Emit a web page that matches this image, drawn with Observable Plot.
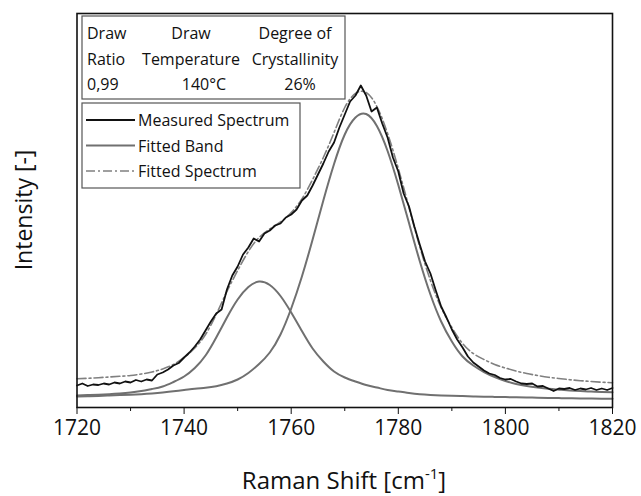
<!DOCTYPE html>
<html>
<head>
<meta charset="utf-8">
<script src="https://cdn.jsdelivr.net/npm/d3@7"></script>
<script src="https://cdn.jsdelivr.net/npm/@observablehq/plot@0.6"></script>
<style>
  html, body { margin: 0; padding: 0; background: #fff; }
  #chart { width: 641px; height: 496px; }
  svg { font-family: "Open Sans", sans-serif; }
</style>
</head>
<body>
<div id="chart"></div>
<script>
// ---- data (intensity in arbitrary units) ----
const bandShift = d3.range(1720, 1821, 2);
const band1 = [12.0, 12.4, 12.8, 13.3, 14.0, 15.0, 16.5, 18.5, 21.0, 25.5, 31.0, 39.5, 52.0, 70.0, 90.0, 108.0, 120.5, 126.0, 122.5, 111.5, 95.0, 76.5, 59.0, 46.0, 36.0, 30.0, 26.0, 22.5, 20.0, 17.5, 16.0, 14.5, 13.3, 12.6, 12.1, 11.7, 11.4, 11.1, 10.8, 10.6, 10.4, 10.2, 10.0, 9.8, 9.6, 9.4, 9.2, 9.0, 8.9, 8.8, 8.7];
const band2 = [11.0, 11.3, 11.6, 12.0, 12.4, 12.8, 13.3, 14.0, 15.0, 16.3, 17.5, 18.8, 19.8, 21.3, 24.0, 28.0, 34.5, 43.5, 55.0, 73.0, 99.0, 131.0, 168.0, 207.0, 243.5, 273.0, 290.0, 293.5, 281.5, 256.5, 222.5, 184.5, 146.5, 113.0, 86.0, 66.0, 51.0, 42.0, 35.5, 30.5, 26.5, 23.5, 21.5, 20.0, 18.7, 17.8, 17.0, 16.4, 16.0, 15.6, 15.3];
const fittedSpectrum = [28.7, 29.2, 29.8, 30.5, 31.2, 32.0, 33.5, 35.5, 38.5, 43.0, 50.0, 59.5, 73.0, 93.0, 116.0, 137.0, 156.0, 170.0, 178.5, 185.5, 195.0, 208.5, 228.0, 250.0, 275.0, 300.0, 314.0, 315.0, 301.0, 274.0, 239.0, 200.0, 161.0, 127.0, 100.0, 80.0, 64.0, 54.0, 48.0, 43.0, 39.5, 36.5, 34.0, 32.0, 30.3, 29.0, 27.8, 26.8, 26.0, 25.3, 24.7];

const measuredShift = d3.range(1720, 1821, 1);
const measured = [22, 24, 21.5, 23, 22.5, 24, 23, 25, 24, 26,
  25, 27.5, 26, 28, 27, 33, 35, 38, 42, 44.5,
  50, 55, 61, 68, 77, 86, 94, 98, 118, 132,
  141, 153, 160, 169, 166, 174, 177, 182, 184, 190,
  193, 198, 207, 212, 222, 233, 244, 256, 265, 280,
  293, 306, 312, 322, 312, 296, 300, 284, 270, 250,
  236, 214, 201, 181, 163, 146, 134, 117, 101, 90,
  78, 68, 60, 51, 45, 41, 37, 34, 32.5, 29.5,
  28, 28.5, 26, 24, 23.5, 24, 21, 21.5, 19, 16.5,
  19, 18.5, 19.5, 17.5, 19, 18, 19.5, 17.5, 19, 17.5, 19.5];

const majorTicks = [1720, 1740, 1760, 1780, 1800, 1820];
const majorTickLabels = ["1720", "1740", "1760", "1780", "1800", "1820"];
const minorTicks = [1730, 1750, 1770, 1790, 1810];

const tableRows = [
  ["Draw", "Draw", "Degree of"],
  ["Ratio", "Temperature", "Crystallinity"],
  ["0,99", "140°C", "26%"]
];
const legendLabels = ["Measured Spectrum", "Fitted Band", "Fitted Spectrum"];

// ---- tables for Plot ----
const bandTable1 = bandShift.map((x, i) => ({x, y: band1[i]}));
const bandTable2 = bandShift.map((x, i) => ({x, y: band2[i]}));
const fitTable = bandShift.map((x, i) => ({x, y: fittedSpectrum[i]}));
const measTable = measuredShift.map((x, i) => ({x, y: measured[i]}));

const bandColor = "#707070";
const fitColor = "#808080";

const chart = Plot.plot({
  width: 641,
  height: 496,
  marginTop: 13,
  marginBottom: 89,
  marginLeft: 76.5,
  marginRight: 29,
  style: {fontFamily: "Open Sans", color: "#111", background: "#fff"},
  x: {domain: [1720, 1820]},
  y: {domain: [0, 394], axis: null},
  marks: [
    Plot.line(bandTable1, {x: "x", y: "y", stroke: bandColor, strokeWidth: 2, curve: "natural"}),
    Plot.line(bandTable2, {x: "x", y: "y", stroke: bandColor, strokeWidth: 2, curve: "natural"}),
    Plot.line(fitTable, {x: "x", y: "y", stroke: fitColor, strokeWidth: 1.6, strokeDasharray: "9,3,2,3", curve: "natural"}),
    Plot.line(measTable, {x: "x", y: "y", stroke: "#111", strokeWidth: 1.8}),
    Plot.frame({stroke: "#111", strokeWidth: 1.6}),
    Plot.axisX({ticks: majorTicks, tickSize: 7, tickPadding: 6, fontSize: 21, label: null,
      tickFormat: (d) => majorTickLabels[majorTicks.indexOf(d)]}),
    Plot.axisX({ticks: minorTicks, tickSize: 4, tickFormat: () => "", label: null})
  ]
});
document.getElementById("chart").appendChild(chart);

// ---- overlays: axis titles, info table, legend ----
const svg = d3.select(chart);
const xt = svg.append("text")
  .attr("x", 344).attr("y", 489)
  .attr("text-anchor", "middle")
  .attr("font-family", "Open Sans").attr("font-size", 24).attr("fill", "#111");
xt.append("tspan").text("Raman Shift [cm");
xt.append("tspan").attr("font-size", 15).attr("dy", -10).text("-1");
xt.append("tspan").attr("dy", 10).text("]");

svg.append("text")
  .attr("transform", "translate(32,210) rotate(-90)")
  .attr("text-anchor", "middle")
  .attr("font-family", "Open Sans").attr("font-size", 23).attr("fill", "#111")
  .text("Intensity [-]");

// info table
svg.append("rect").attr("x", 82).attr("y", 16).attr("width", 263).attr("height", 83)
  .attr("fill", "#fff").attr("stroke", "#555").attr("stroke-width", 1.2);
const colX = [[87, "start"], [191, "middle"], [295, "middle"]];
const rowY = [39, 64.5, 90];
tableRows.forEach((row, r) => row.forEach((t, c) => {
  let x = colX[c][0];
  if (r === 2 && c === 1) x = 204;
  if (r === 2 && c === 2) x = 300;
  svg.append("text").attr("x", x).attr("y", rowY[r]).attr("text-anchor", colX[c][1])
    .attr("font-family", "Open Sans").attr("font-size", 16).attr("fill", "#111").text(t);
}));

// legend
svg.append("rect").attr("x", 82).attr("y", 103).attr("width", 218).attr("height", 85)
  .attr("fill", "#fff").attr("stroke", "#555").attr("stroke-width", 1.2);
const legStyles = [
  {stroke: "#111", w: 1.8, dash: null},
  {stroke: bandColor, w: 2, dash: null},
  {stroke: fitColor, w: 1.6, dash: "9,3,2,3"}
];
const legY = [120, 145.5, 171];
legendLabels.forEach((t, i) => {
  const ln = svg.append("line").attr("x1", 86).attr("x2", 135).attr("y1", legY[i]).attr("y2", legY[i])
    .attr("stroke", legStyles[i].stroke).attr("stroke-width", legStyles[i].w);
  if (legStyles[i].dash) ln.attr("stroke-dasharray", legStyles[i].dash);
  svg.append("text").attr("x", 138).attr("y", legY[i] + 6).attr("text-anchor", "start")
    .attr("font-family", "Open Sans").attr("font-size", 16).attr("fill", "#111").text(t);
});
</script>
</body>
</html>
